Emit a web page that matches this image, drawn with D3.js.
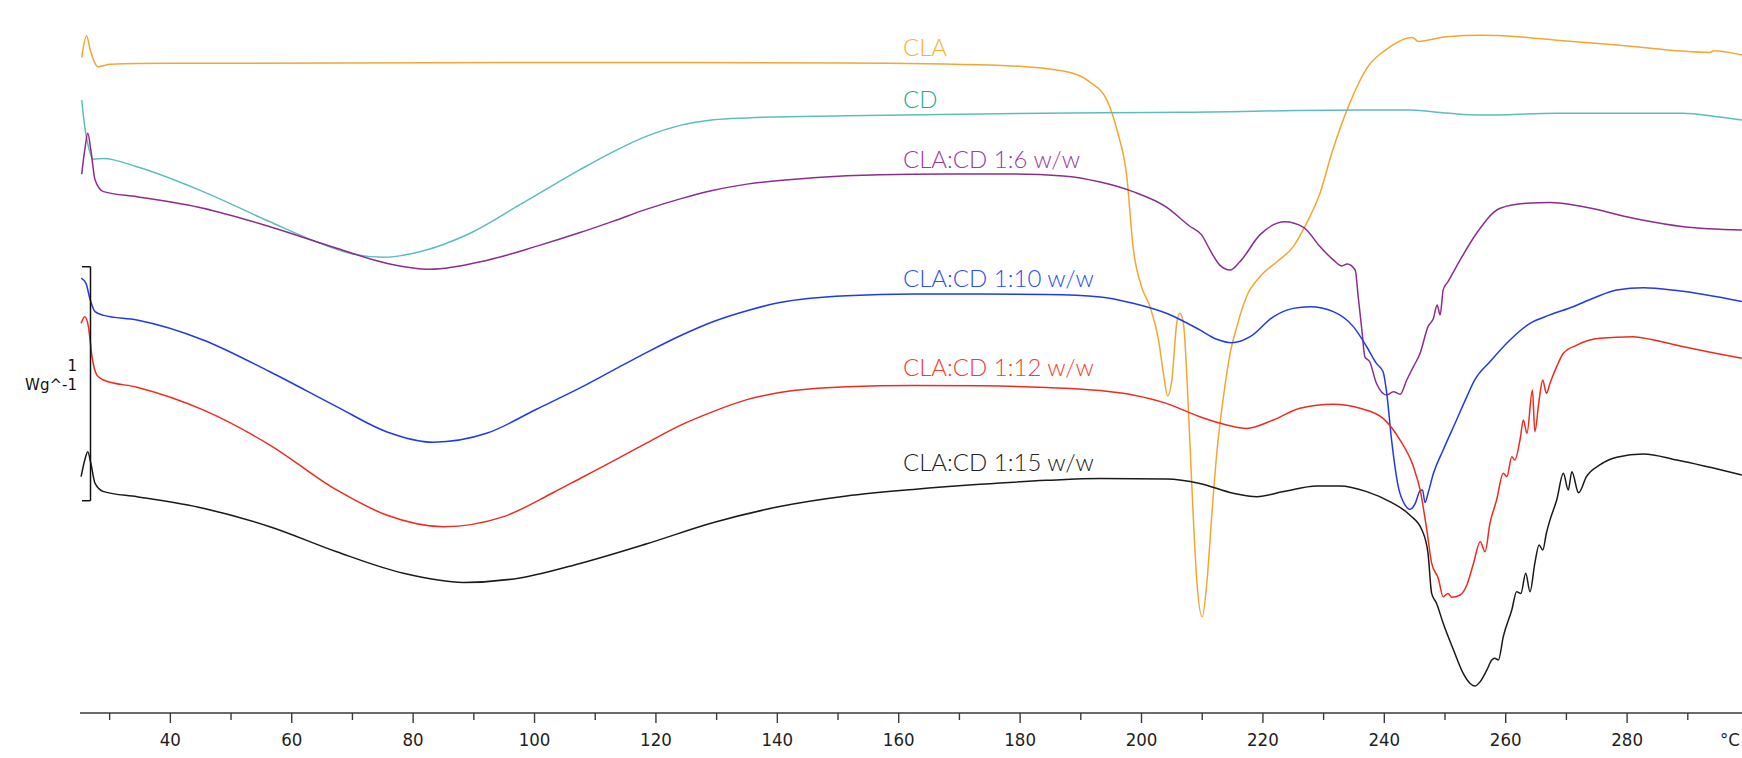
<!DOCTYPE html>
<html>
<head>
<meta charset="utf-8">
<script src="https://cdn.jsdelivr.net/npm/d3@7/dist/d3.min.js"></script>
<style>
  html, body { margin: 0; padding: 0; background: #fff; overflow: hidden; }
  svg { display: block; }
</style>
</head>
<body>
<svg id="chart"></svg>
<script>
// DSC thermograms: CLA, CD and CLA:CD physical mixtures, heat flow (W/g, stacked) vs temperature

// ── Data: [temperature °C, heat flow W/g (offset)] ───────────────────────────
const CLA = [
  [25.4, 2.815], [26.2, 2.907], [26.8, 2.846], [27.8, 2.780], [28.1, 2.775], [30.1, 2.785],
  [40.0, 2.789], [107.5, 2.793], [151.4, 2.791], [176.1, 2.781], [187.1, 2.756], [191.5, 2.709],
  [194.3, 2.632], [196.0, 2.500], [197.6, 2.299], [198.6, 2.006], [200.0, 1.835], [201.4, 1.749],
  [202.8, 1.607], [203.6, 1.465], [204.3, 1.368], [205.0, 1.436], [205.8, 1.678], [206.3, 1.721],
  [206.9, 1.679], [207.5, 1.436], [208.0, 1.151], [208.5, 0.866], [209.1, 0.581], [210.0, 0.424],
  [210.8, 0.581], [211.6, 0.866], [212.4, 1.123], [213.5, 1.365], [214.6, 1.550], [215.7, 1.664],
  [217.3, 1.792], [219.5, 1.877], [222.3, 1.941], [225.0, 2.006], [227.2, 2.106], [229.4, 2.234],
  [231.4, 2.410], [234.3, 2.618], [237.3, 2.775], [240.2, 2.846], [244.6, 2.900], [245.6, 2.883],
  [250.2, 2.903], [256.1, 2.909], [262.0, 2.903], [268.4, 2.888], [278.3, 2.868], [293.7, 2.836],
  [294.2, 2.843], [298.9, 2.825]
];

const CD = [
  [25.4, 2.632], [25.9, 2.518], [26.5, 2.433], [27.3, 2.379], [29.0, 2.383], [34.5, 2.347],
  [45.4, 2.241], [56.4, 2.112], [64.7, 2.020], [70.1, 1.974], [75.1, 1.960], [81.1, 1.984],
  [89.4, 2.063], [97.6, 2.185], [107.5, 2.335], [113.0, 2.412], [118.5, 2.478], [124.0, 2.524],
  [129.5, 2.548], [135.0, 2.556], [151.4, 2.565], [173.4, 2.573], [193.2, 2.578], [206.1, 2.580],
  [235.5, 2.590], [244.3, 2.590], [250.2, 2.577], [256.1, 2.568], [268.4, 2.576], [289.2, 2.576],
  [294.8, 2.561], [298.9, 2.547]
];

const MIX_1_6 = [
  [25.4, 2.316], [25.9, 2.419], [26.4, 2.490], [26.9, 2.419], [27.6, 2.291], [29.0, 2.241],
  [34.5, 2.219], [45.4, 2.170], [56.4, 2.091], [67.4, 1.999], [75.6, 1.935], [82.8, 1.909],
  [92.1, 1.947], [100.4, 2.008], [107.5, 2.066], [113.0, 2.115], [118.5, 2.166], [124.0, 2.210],
  [129.5, 2.247], [135.0, 2.273], [145.9, 2.300], [156.9, 2.313], [167.9, 2.316], [178.8, 2.316],
  [187.1, 2.308], [193.2, 2.282], [198.6, 2.241], [204.1, 2.175], [207.9, 2.094], [209.9, 2.056],
  [211.3, 1.991], [212.9, 1.927], [214.6, 1.906], [216.2, 1.941], [219.5, 2.056], [223.6, 2.112],
  [226.7, 2.088], [229.4, 2.006], [231.6, 1.949], [233.0, 1.923], [233.9, 1.932], [235.2, 1.906],
  [235.7, 1.792], [236.3, 1.650], [236.8, 1.535], [237.6, 1.514], [238.7, 1.422], [240.4, 1.372],
  [241.5, 1.386], [242.6, 1.375], [243.7, 1.436], [244.8, 1.493], [245.9, 1.550], [247.2, 1.664],
  [248.1, 1.700], [248.7, 1.756], [249.2, 1.714], [249.7, 1.821], [250.5, 1.856], [252.5, 1.949],
  [255.2, 2.063], [259.1, 2.170], [263.5, 2.191], [267.3, 2.194], [272.8, 2.176], [281.0, 2.127],
  [289.3, 2.091], [298.9, 2.077]
];

const MIX_1_10 = [
  [25.3, 1.871], [26.1, 1.849], [26.8, 1.778], [27.6, 1.728], [29.0, 1.712], [34.5, 1.692],
  [45.4, 1.607], [56.4, 1.471], [67.4, 1.322], [75.6, 1.215], [83.3, 1.170], [92.1, 1.208],
  [100.4, 1.312], [107.5, 1.402], [113.0, 1.478], [118.5, 1.554], [124.0, 1.625], [129.5, 1.686],
  [135.0, 1.732], [140.4, 1.767], [151.4, 1.796], [162.4, 1.803], [173.4, 1.803], [184.4, 1.801],
  [193.2, 1.791], [198.6, 1.764], [204.1, 1.721], [209.6, 1.650], [212.4, 1.610], [214.9, 1.595],
  [217.9, 1.621], [221.7, 1.706], [225.0, 1.742], [227.8, 1.749], [231.6, 1.728], [234.9, 1.664],
  [237.1, 1.578], [238.7, 1.507], [239.8, 1.471], [240.4, 1.379], [241.2, 1.179], [242.3, 0.980],
  [243.4, 0.902], [244.2, 0.883], [245.1, 0.909], [245.9, 0.963], [246.3, 0.966], [246.7, 0.912],
  [247.2, 0.952], [248.1, 1.037], [249.7, 1.137], [251.9, 1.265], [253.6, 1.365], [254.9, 1.436],
  [257.4, 1.514], [260.7, 1.607], [264.0, 1.678], [267.3, 1.714], [271.1, 1.749], [274.4, 1.785],
  [278.3, 1.821], [282.7, 1.830], [288.2, 1.818], [298.9, 1.771]
];

const MIX_1_12 = [
  [25.3, 1.678], [25.9, 1.706], [26.5, 1.664], [27.1, 1.535], [27.9, 1.457], [29.0, 1.436],
  [34.5, 1.405], [45.4, 1.308], [56.4, 1.158], [67.4, 0.966], [75.6, 0.859], [85.0, 0.809],
  [94.9, 0.852], [103.1, 0.955], [107.5, 1.015], [113.0, 1.090], [118.5, 1.167], [124.0, 1.242],
  [129.5, 1.302], [135.0, 1.352], [140.4, 1.382], [151.4, 1.407], [162.4, 1.412], [173.4, 1.411],
  [184.4, 1.404], [193.2, 1.391], [198.6, 1.372], [204.1, 1.336], [209.6, 1.279], [214.0, 1.244],
  [217.3, 1.229], [221.7, 1.265], [226.1, 1.315], [231.6, 1.332], [236.0, 1.315], [239.8, 1.272],
  [242.6, 1.179], [244.8, 1.065], [245.9, 0.966], [247.0, 0.795], [247.8, 0.653], [248.9, 0.588],
  [249.7, 0.510], [250.5, 0.524], [251.1, 0.507], [252.5, 0.517], [253.6, 0.560], [254.7, 0.653],
  [255.8, 0.745], [256.6, 0.702], [257.4, 0.823], [258.5, 0.923], [259.6, 1.037], [260.2, 1.023],
  [261.0, 1.108], [261.5, 1.094], [262.4, 1.187], [262.9, 1.265], [263.5, 1.208], [264.4, 1.393],
  [264.8, 1.215], [265.5, 1.350], [266.1, 1.436], [266.7, 1.379], [267.3, 1.422], [268.4, 1.493],
  [269.5, 1.550], [271.7, 1.585], [275.5, 1.614], [281.0, 1.621], [283.8, 1.610], [289.3, 1.578],
  [298.9, 1.529]
];

const MIX_1_15 = [
  [25.3, 1.023], [25.9, 1.094], [26.4, 1.129], [26.9, 1.080], [27.6, 0.994], [29.0, 0.959],
  [34.5, 0.937], [45.4, 0.888], [56.4, 0.809], [67.4, 0.702], [78.4, 0.610], [88.3, 0.571],
  [97.6, 0.590], [107.5, 0.652], [118.5, 0.736], [129.5, 0.827], [140.4, 0.895], [151.4, 0.940],
  [162.4, 0.968], [173.4, 0.990], [184.4, 1.007], [193.2, 1.015], [204.1, 1.013], [209.6, 0.994],
  [215.1, 0.952], [219.0, 0.937], [223.4, 0.959], [228.9, 0.983], [232.7, 0.983], [237.1, 0.959],
  [240.9, 0.916], [244.2, 0.859], [246.2, 0.795], [247.2, 0.695], [247.8, 0.524], [248.6, 0.482],
  [249.7, 0.396], [251.4, 0.282], [253.0, 0.182], [254.1, 0.140], [254.9, 0.128], [255.8, 0.147],
  [256.9, 0.197], [257.7, 0.239], [258.2, 0.247], [258.8, 0.239], [259.6, 0.339], [261.0, 0.453],
  [261.8, 0.531], [262.5, 0.524], [263.3, 0.610], [264.0, 0.531], [264.8, 0.653], [265.5, 0.731],
  [266.1, 0.709], [266.7, 0.781], [267.3, 0.838], [268.4, 0.923], [269.5, 1.037], [270.3, 0.966],
  [270.9, 1.044], [272.0, 0.954], [273.3, 1.023], [275.5, 1.073], [278.3, 1.106], [282.7, 1.120],
  [288.2, 1.094], [298.9, 1.030]
];

const SERIES_NAMES = ['CLA', 'CD', 'CLA:CD 1:6 w/w', 'CLA:CD 1:10 w/w', 'CLA:CD 1:12 w/w', 'CLA:CD 1:15 w/w'];
const SERIES_DATA  = [CLA, CD, MIX_1_6, MIX_1_10, MIX_1_12, MIX_1_15];

const MAJOR_TICKS = [40, 60, 80, 100, 120, 140, 160, 180, 200, 220, 240, 260, 280];
const MINOR_TICKS = [30, 50, 70, 90, 110, 130, 150, 170, 190, 210, 230, 250, 270, 290];
const X_UNIT = '°C';

const SCALE_BAR = [0.92, 1.92];          // 1 W/g reference bar
const SCALE_LABEL = ['1', 'Wg^-1'];

// ── Styling / layout ──────────────────────────────────────────────────────────
const W = 1742, H = 758;
const BASE_Y = 716;          // zero of the heat-flow scale
const AXIS_Y = 713;          // drawn axis line
const LINE_COLORS  = ['#f4a632', '#5cbdbd', '#8b2d8d', '#2039ea', '#ee2b20', '#1a1a1a'];
const LABEL_COLORS = ['#f6b233', '#1faa90', '#9b3a9f', '#2b50f3', '#f23d2a', '#222222'];
const LABEL_X = 903;
const LABEL_BASE = [56, 107.5, 168, 286.5, 376, 471];
const TICK_FONT = '"DejaVu Sans Condensed", "DejaVu Sans", sans-serif';

const svg = d3.select('#chart').attr('width', W).attr('height', H);

const x = d3.scaleLinear().domain([25, 300]).range([79.3, 1748.5]);
const y = d3.scaleLinear().domain([0, 1]).range([BASE_Y, BASE_Y - 234]);

svg.append('defs').append('clipPath').attr('id', 'plot-clip')
  .append('rect').attr('x', 79).attr('y', 0).attr('width', W - 79).attr('height', H);

// ── Curves ────────────────────────────────────────────────────────────────────
const line = d3.line()
  .x(d => x(d[0]))
  .y(d => y(d[1]))
  .curve(d3.curveMonotoneX);

const curvesG = svg.append('g').attr('clip-path', 'url(#plot-clip)');
SERIES_DATA.forEach((data, i) => {
  curvesG.append('path')
    .datum(data)
    .attr('d', line)
    .attr('fill', 'none')
    .attr('stroke', LINE_COLORS[i])
    .attr('stroke-width', 1.5)
    .attr('stroke-linejoin', 'round');
});

// ── Series labels ─────────────────────────────────────────────────────────────
SERIES_NAMES.forEach((name, i) => {
  svg.append('text')
    .attr('x', LABEL_X)
    .attr('y', LABEL_BASE[i])
    .attr('fill', LABEL_COLORS[i])
    .attr('font-family', 'Lato, "Open Sans", sans-serif')
    .attr('font-weight', 300)
    .attr('font-size', '24px')
    .text(name);
});

// ── X axis ────────────────────────────────────────────────────────────────────
const axisG = svg.append('g');
axisG.append('line')
  .attr('x1', 80).attr('x2', W)
  .attr('y1', AXIS_Y).attr('y2', AXIS_Y)
  .attr('stroke', '#3a3a3a').attr('stroke-width', 1.6);

axisG.selectAll('.minor')
  .data(MINOR_TICKS)
  .join('line')
  .attr('x1', d => x(d)).attr('x2', d => x(d))
  .attr('y1', AXIS_Y).attr('y2', AXIS_Y + 7)
  .attr('stroke', '#3a3a3a').attr('stroke-width', 1.4);

axisG.selectAll('.major')
  .data(MAJOR_TICKS)
  .join('line')
  .attr('x1', d => x(d)).attr('x2', d => x(d))
  .attr('y1', AXIS_Y).attr('y2', AXIS_Y + 10)
  .attr('stroke', '#3a3a3a').attr('stroke-width', 1.4);

axisG.selectAll('.tick-label')
  .data(MAJOR_TICKS)
  .join('text')
  .attr('x', d => x(d))
  .attr('y', 746)
  .attr('text-anchor', 'middle')
  .attr('fill', '#1e1e1e')
  .attr('font-family', TICK_FONT)
  .attr('font-size', '18.5px')
  .text(d => d);

axisG.append('text')
  .attr('x', 1720).attr('y', 746)
  .attr('fill', '#1e1e1e')
  .attr('font-family', TICK_FONT)
  .attr('font-size', '18.5px')
  .text(X_UNIT);

// ── 1 W/g scale bar ───────────────────────────────────────────────────────────
const barX = 90.5;
const barG = svg.append('g').attr('stroke', '#111').attr('stroke-width', 1.5).attr('fill', 'none');
barG.append('line')
  .attr('x1', barX).attr('x2', barX)
  .attr('y1', y(SCALE_BAR[1])).attr('y2', y(SCALE_BAR[0]));
SCALE_BAR.forEach(v => {
  barG.append('line')
    .attr('x1', barX - 8.5).attr('x2', barX)
    .attr('y1', y(v)).attr('y2', y(v));
});

SCALE_LABEL.forEach((t, i) => {
  svg.append('text')
    .attr('x', 77)
    .attr('y', 371 + i * 19)
    .attr('text-anchor', 'end')
    .attr('fill', '#111')
    .attr('font-family', '"DejaVu Sans", sans-serif')
    .attr('font-size', '15px')
    .text(t);
});
</script>
</body>
</html>
